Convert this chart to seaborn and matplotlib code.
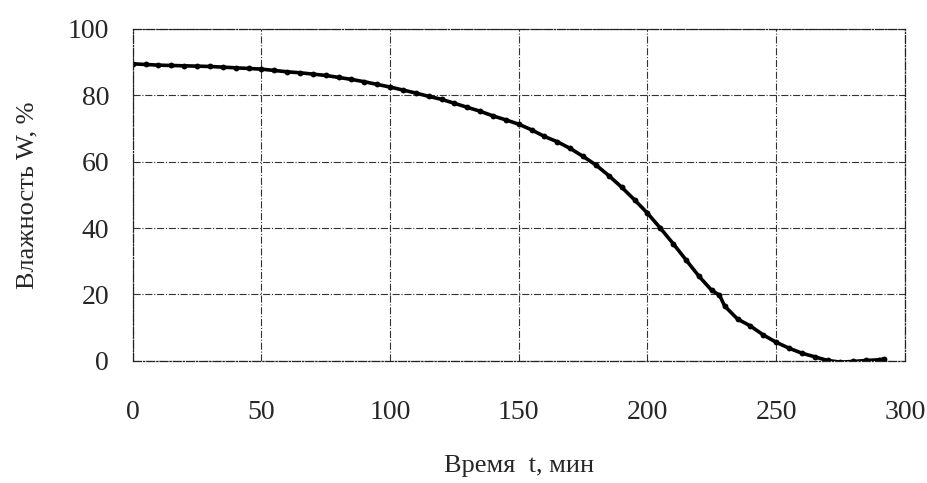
import pandas as pd
import numpy as np
import matplotlib
matplotlib.use('Agg')
import matplotlib.pyplot as plt
import seaborn as sns

# drying curve
time_min = [0, 5, 10, 15, 20, 25, 30, 35, 40, 45, 50, 55, 60, 65, 70, 75, 80, 85, 90, 95,
            100, 105, 110, 115, 120, 125, 130, 135, 140, 145, 150, 155, 160, 165, 170, 175,
            180, 185, 190, 195, 200, 205, 210, 215, 220, 225, 228, 230, 235, 240, 245, 250,
            255, 260, 265, 270, 275, 280, 285, 290, 292]
moisture = [89.5, 89.3, 89.1, 89.0, 88.9, 88.8, 88.7, 88.5, 88.3, 88.1, 87.9, 87.5, 87.1, 86.8,
            86.4, 86.0, 85.4, 84.8, 84.1, 83.3, 82.5, 81.6, 80.7, 79.7, 78.8, 77.6, 76.4, 75.2,
            73.8, 72.6, 71.3, 69.6, 67.6, 66.0, 64.0, 61.6, 59.0, 55.8, 52.3, 48.5, 44.5, 40.0,
            35.3, 30.4, 25.5, 21.2, 19.8, 16.5, 12.6, 10.5, 7.8, 5.6, 3.8, 2.3, 1.2, 0.1, -0.4,
            -0.2, 0.1, 0.3, 0.6]
x_ticks = [0, 50, 100, 150, 200, 250, 300]
y_ticks = [0, 20, 40, 60, 80, 100]

df = pd.DataFrame({'t': time_min, 'W': moisture})

sns.set_theme(style='white')
plt.rcParams['font.family'] = ['Liberation Serif', 'DejaVu Serif']

fig, ax = plt.subplots(figsize=(9.28, 4.83), dpi=100)
fig.subplots_adjust(left=0.143, right=0.975, top=0.940, bottom=0.253)

sns.lineplot(data=df, x='t', y='W', ax=ax, color='black', linewidth=2.6,
             marker='o', markersize=4.2, markeredgewidth=0)

ax.set_xlim(0, 300)
ax.set_ylim(0, 100)
ax.set_xticks(x_ticks)
ax.set_yticks(y_ticks)
ax.grid(True, color='#333333', linestyle='-.', linewidth=0.8)
for sp in ax.spines.values():
    sp.set_color('#222222')
    sp.set_linestyle('-.')
    sp.set_linewidth(0.9)
ax.tick_params(axis='x', length=0, pad=28, labelsize=20)
ax.tick_params(axis='y', length=0, pad=17, labelsize=20)
ax.set_xlabel('Время  t, мин', fontsize=19, labelpad=22)
ax.set_ylabel('Влажность W, %', fontsize=19, labelpad=21)

fig.savefig('out.png', dpi=100)
